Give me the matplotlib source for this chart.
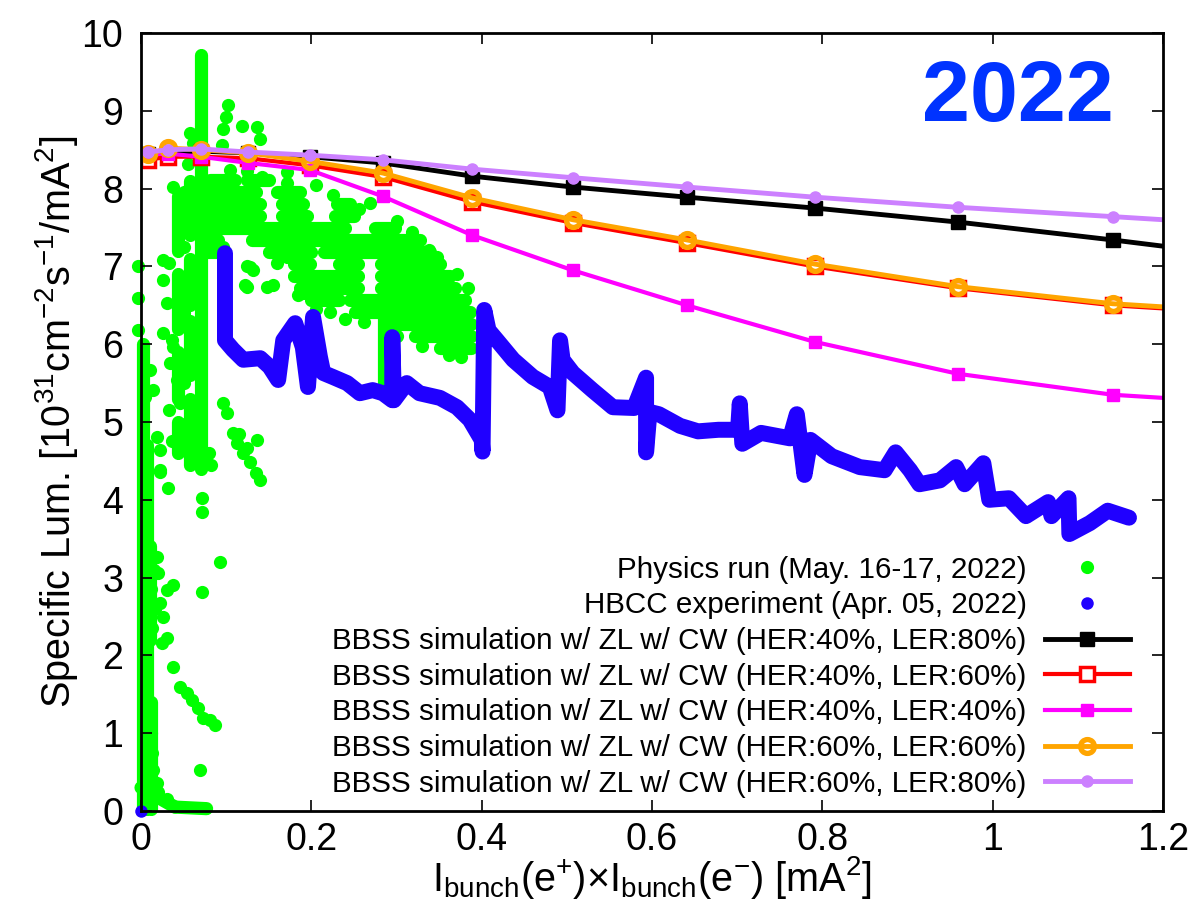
import numpy as np
import matplotlib.pyplot as plt

plt.rcParams['font.family'] = ['Liberation Sans', 'DejaVu Sans']
plt.rcParams['mathtext.fontset'] = 'custom'
plt.rcParams['mathtext.rm'] = 'Liberation Sans'
plt.rcParams['mathtext.it'] = 'Liberation Sans:italic'
plt.rcParams['mathtext.bf'] = 'Liberation Sans:bold'

# BBSS simulation, I+ x I- [mA^2] vs specific luminosity (last point = value at the right border)
sim_x = [0.008, 0.032, 0.070, 0.126, 0.198, 0.284, 0.389, 0.507, 0.641, 0.791, 0.959, 1.141, 1.2]
her40_ler80 = [8.45, 8.47, 8.48, 8.46, 8.41, 8.33, 8.16, 8.02, 7.89, 7.75, 7.57, 7.34, 7.26]
her40_ler60 = [8.37, 8.41, 8.41, 8.39, 8.30, 8.15, 7.83, 7.56, 7.30, 7.00, 6.72, 6.50, 6.46]
her40_ler40 = [8.44, 8.45, 8.41, 8.33, 8.24, 7.90, 7.40, 6.95, 6.50, 6.03, 5.62, 5.35, 5.31]
her60_ler60 = [8.44, 8.52, 8.50, 8.46, 8.35, 8.20, 7.88, 7.60, 7.34, 7.03, 6.74, 6.52, 6.48]
her60_ler80 = [8.47, 8.50, 8.51, 8.47, 8.43, 8.37, 8.25, 8.14, 8.02, 7.89, 7.76, 7.64, 7.60]

# physics run: dense streaks of points, one (x0, x1, y0, y1) per streak
phys_streaks = [
    (0.002, 0.002, 0.02, 6.00), (0.007, 0.007, 0.02, 4.70),
    (0.012, 0.012, 0.02, 1.40), (0.010, 0.010, 2.20, 3.40),
    (0.0, 0.040, 0.30, 0.05), (0.040, 0.077, 0.05, 0.03),
    (0.070, 0.070, 4.40, 9.72),
    (0.044, 0.044, 7.20, 7.90), (0.044, 0.044, 6.20, 6.90), (0.044, 0.044, 5.30, 5.90),
    (0.044, 0.044, 4.60, 5.00), (0.057, 0.057, 7.40, 8.10), (0.057, 0.057, 6.50, 7.10),
    (0.057, 0.057, 5.60, 6.30), (0.057, 0.057, 4.45, 5.30),
    (0.285, 0.285, 6.40, 5.47),
    (0.081, 0.110, 8.11, 8.11), (0.125, 0.150, 8.11, 8.11),
    (0.075, 0.135, 7.96, 7.96), (0.160, 0.187, 7.96, 7.96),
    (0.075, 0.140, 7.80, 7.80), (0.165, 0.190, 7.80, 7.80), (0.230, 0.245, 7.80, 7.80),
    (0.075, 0.140, 7.65, 7.65), (0.165, 0.195, 7.65, 7.65), (0.228, 0.250, 7.65, 7.65),
    (0.075, 0.240, 7.49, 7.49), (0.275, 0.298, 7.49, 7.49),
    (0.075, 0.090, 7.34, 7.34), (0.130, 0.327, 7.34, 7.34),
    (0.075, 0.090, 7.19, 7.19), (0.150, 0.200, 7.19, 7.19), (0.215, 0.339, 7.19, 7.19),
    (0.180, 0.198, 7.03, 7.03), (0.232, 0.255, 7.03, 7.03), (0.282, 0.351, 7.03, 7.03),
    (0.180, 0.255, 6.88, 6.88), (0.282, 0.363, 6.88, 6.88),
    (0.187, 0.255, 6.72, 6.72), (0.282, 0.369, 6.72, 6.72),
    (0.200, 0.232, 6.57, 6.57), (0.245, 0.380, 6.57, 6.57),
    (0.251, 0.386, 6.41, 6.41), (0.292, 0.388, 6.26, 6.26),
    (0.322, 0.388, 6.11, 6.11), (0.351, 0.388, 5.95, 5.95),
]

# physics run: isolated points
phys_x = [0.058, 0.061, 0.102, 0.100, 0.096, 0.118, 0.136, 0.140, 0.095, 0.055, 0.104, 0.104,
          0.124, 0.142, 0.171, 0.171, 0.038, -0.003, -0.003, -0.003,
          0.026, 0.026, 0.031, 0.026, 0.038, 0.034, 0.042, 0.046, 0.054, 0.058, 0.019, 0.022,
          0.011, 0.014, 0.005, 0.022, 0.022, 0.032, 0.019, 0.020, 0.038, 0.031, 0.022, 0.026,
          0.031, 0.025, 0.093, 0.072, 0.069, 0.013, 0.014, 0.019, 0.011, 0.072, 0.072,
          0.012, 0.015, 0.012, 0.016, 0.013, 0.010, 0.012, 0.008, 0.010, 0.020, 0.030, 0.012,
          0.038, 0.046, 0.054, 0.060, 0.067, 0.073, 0.081, 0.087,
          0.055, 0.062, 0.065, 0.080, 0.082, 0.113, 0.120, 0.128, 0.135, 0.140, 0.115, 0.124,
          0.096, 0.101, 0.108, 0.136,
          0.093, 0.096, 0.124, 0.131, 0.124, 0.148, 0.155, 0.160, 0.171, 0.183, 0.190, 0.190,
          0.210, 0.128, 0.122, 0.184, 0.269, 0.338,
          0.033, 0.050, 0.036, 0.050, 0.033, 0.050, 0.036, 0.050,
          0.205, 0.222, 0.240, 0.262, 0.300, 0.330, 0.362, 0.376,
          0.205, 0.226, 0.256, 0.300, 0.318, 0.348, 0.371, 0.384]
phys_y = [8.72, 8.58, 9.07, 8.92, 8.76, 8.80, 8.79, 8.64, 8.56, 8.32, 8.24, 8.06,
          8.22, 8.15, 8.21, 8.07, 8.02, 7.00, 6.60, 6.18,
          7.08, 6.83, 6.53, 6.14, 5.96, 5.76, 5.54, 5.24, 4.99, 4.68, 4.81, 4.38,
          5.67, 5.41, 5.32, 4.64, 4.36, 4.15, 3.26, 3.06, 2.90, 2.84, 2.67, 2.49,
          2.22, 2.16, 3.20, 2.82, 0.53, 0.75, 0.53, 0.36, 1.13, 4.02, 3.84,
          3.30, 3.10, 2.85, 2.60, 2.35, 1.30, 1.00, 0.85, 0.40, 0.25, 0.15, 0.20,
          1.85, 1.59, 1.52, 1.43, 1.32, 1.20, 1.17, 1.10,
          4.85, 4.70, 4.50, 4.60, 4.45, 4.73, 4.60, 4.48, 4.35, 4.25, 4.85, 4.66,
          5.24, 5.12, 4.86, 4.77,
          7.63, 7.25, 7.00, 6.95, 6.73, 6.73, 6.76, 7.04, 7.12, 7.08, 6.86, 6.66,
          6.66, 6.99, 6.76, 6.63, 7.81, 7.21,
          7.05, 7.25, 6.05, 6.40, 5.15, 5.50, 4.75, 7.95,
          6.45, 6.42, 6.33, 6.28, 6.10, 5.98, 5.86, 5.84,
          8.05, 7.92, 7.74, 7.58, 7.44, 7.12, 6.90, 6.72]

# HBCC experiment: continuous track of points
hbcc_x = [0.0986, 0.0986, 0.108, 0.120, 0.140, 0.151, 0.161, 0.167, 0.181, 0.190, 0.196,
          0.202, 0.210, 0.214, 0.225, 0.242, 0.257, 0.272, 0.284, 0.295, 0.295, 0.297,
          0.312, 0.327, 0.351, 0.371, 0.386, 0.400, 0.401, 0.403, 0.408, 0.418, 0.437,
          0.460, 0.480, 0.489, 0.492, 0.495, 0.507, 0.530, 0.554, 0.579, 0.593, 0.593,
          0.597, 0.608, 0.633, 0.654, 0.678, 0.701, 0.703, 0.706, 0.728, 0.762, 0.770,
          0.779, 0.786, 0.811, 0.844, 0.873, 0.886, 0.903, 0.914, 0.938, 0.957, 0.967,
          0.989, 0.996, 1.019, 1.039, 1.065, 1.069, 1.089, 1.090, 1.114, 1.135, 1.160]
hbcc_y = [7.17, 6.05, 5.93, 5.80, 5.82, 5.71, 5.54, 6.05, 6.27, 5.96, 5.45,
          6.35, 5.84, 5.63, 5.58, 5.50, 5.37, 5.41, 5.37, 5.28, 6.09, 5.28,
          5.50, 5.37, 5.31, 5.19, 5.03, 4.77, 4.62, 6.44, 6.18, 6.05, 5.80,
          5.58, 5.45, 5.15, 6.05, 5.80, 5.63, 5.41, 5.19, 5.18, 5.57, 4.61,
          5.13, 5.10, 4.95, 4.88, 4.90, 4.90, 5.24, 4.72, 4.86, 4.79, 5.10,
          4.32, 4.77, 4.56, 4.42, 4.38, 4.61, 4.38, 4.20, 4.25, 4.42, 4.20,
          4.47, 4.00, 4.02, 3.79, 3.97, 3.79, 4.02, 3.56, 3.70, 3.86, 3.77]
hbcc_dot_x = [0.0]
hbcc_dot_y = [0.0]

labels = ['Physics run (May. 16-17, 2022)',
          'HBCC experiment (Apr. 05, 2022)',
          'BBSS simulation w/ ZL w/ CW (HER:40%, LER:80%)',
          'BBSS simulation w/ ZL w/ CW (HER:40%, LER:60%)',
          'BBSS simulation w/ ZL w/ CW (HER:40%, LER:40%)',
          'BBSS simulation w/ ZL w/ CW (HER:60%, LER:60%)',
          'BBSS simulation w/ ZL w/ CW (HER:60%, LER:80%)']

green = '#00ff00'
blue = '#2000ff'

fig = plt.figure(figsize=(11.93, 9.02), dpi=100)
ax = fig.add_axes([0.1182, 0.1009, 0.8567, 0.8625])

for x0, x1, y0, y1 in phys_streaks:
    ax.plot([x0, x1], [y0, y1], color=green, lw=9.5, solid_capstyle='round',
            zorder=1, clip_on=False)
h_phys, = ax.plot(phys_x, phys_y, 'o', color=green, ms=9.5, mew=0, ls='none', zorder=1,
                  clip_on=False, label=labels[0])
ax.plot(hbcc_x, hbcc_y, color=blue, lw=11.5, solid_capstyle='round',
        solid_joinstyle='round', zorder=2)
h_hbcc, = ax.plot(hbcc_dot_x, hbcc_dot_y, 'o', color=blue, ms=9, mew=0, ls='none', zorder=2,
                  clip_on=False, label=labels[1])

mk = list(range(len(sim_x) - 1))
h1, = ax.plot(sim_x, her40_ler80, color='black', lw=3.5, marker='s', ms=9.5, markevery=mk,
              zorder=3, label=labels[2])
h2, = ax.plot(sim_x, her40_ler60, color='red', lw=3.0, marker='s', ms=10, mfc='white',
              mec='red', mew=2.5, markevery=mk, zorder=4, label=labels[3])
h3, = ax.plot(sim_x, her40_ler40, color='#ff00ff', lw=3.0, marker='s', ms=8, markevery=mk,
              zorder=5, label=labels[4])
h4, = ax.plot(sim_x, her60_ler60, color='#ffa500', lw=3.5, marker='o', ms=10, mfc='none',
              mew=3.8, markevery=mk, zorder=6, label=labels[5])
h5, = ax.plot(sim_x, her60_ler80, color='#cc80ff', lw=3.5, marker='o', ms=8, markevery=mk,
              zorder=7, label=labels[6])

ax.set_xlim(0, 1.2)
ax.set_ylim(0, 10)
ax.set_xticks([0, 0.2, 0.4, 0.6, 0.8, 1.0, 1.2])
ax.set_xticklabels(['0', '0.2', '0.4', '0.6', '0.8', '1', '1.2'])
ax.set_yticks(range(11))
ax.tick_params(direction='in', length=8, width=1.2, top=True, right=True, labelsize=27)
ax.tick_params(axis='y', pad=13)
ax.tick_params(axis='x', pad=8)
for s in ax.spines.values():
    s.set_linewidth(2)
    s.set_zorder(10)

ax.set_ylabel(r'Specific Lum. [10$^{\mathrm{31}}$cm$^{\mathrm{-2}}$s$^{\mathrm{-1}}$/mA$^{\mathrm{2}}$]',
              fontsize=28.5, labelpad=1)
ax.set_xlabel(r'I$_{\mathrm{bunch}}$(e$^{\mathrm{+}}$)$\times$I$_{\mathrm{bunch}}$(e$^{\mathrm{-}}$) [mA$^{\mathrm{2}}$]',
              fontsize=28.5, labelpad=-3)

ax.text(0.858, 0.915, '2022', transform=ax.transAxes, ha='center', va='center',
        fontsize=62, fontweight='bold', color='#0033ff')

ax.legend(handles=[h_phys, h_hbcc, h1, h2, h3, h4, h5], loc='lower right',
          bbox_to_anchor=(0.968, 0.017), frameon=False, fontsize=21.3, markerfirst=False,
          numpoints=1, handlelength=2.9, handletextpad=0.6, labelspacing=0.26,
          borderpad=0, borderaxespad=0)

fig.savefig('out.png', dpi=100)
